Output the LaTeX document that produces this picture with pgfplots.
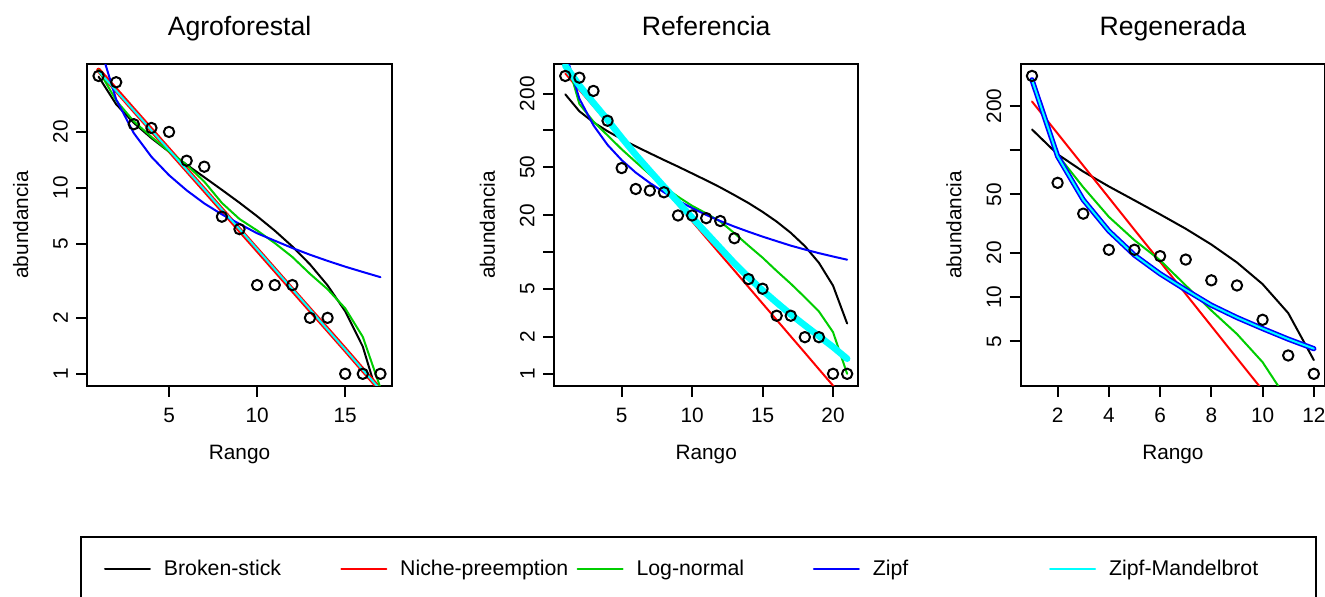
\documentclass[border=0pt]{standalone}
\usepackage{fontspec}
\setmainfont{Liberation Sans}
\usepackage{pgfplots}
\pgfplotsset{compat=1.18}
\definecolor{rgreen}{HTML}{00CD00}
\definecolor{rcyan}{RGB}{0,255,255}
\definecolor{rred}{RGB}{255,0,0}
\definecolor{rblue}{RGB}{0,0,255}

\pgfplotsset{
  every axis/.append style={
    scale only axis, width=152.2pt, height=160.85pt,
    clip=true,
    axis line style={line width=1pt},
    tick align=outside, major tick length=5.5pt,
    tick style={black, line width=1pt},
    xtick pos=left, ytick pos=left,
    xminorticks=false, yminorticks=false,
    ticklabel style={font=\fontsize{10.4}{12}\selectfont, inner sep=0pt},
    xticklabel style={anchor=north, yshift=-5.65pt},
    yticklabel style={xshift=-4pt, rotate=90, anchor=south},
    xlabel={Rango}, ylabel={abundancia},
    label style={font=\fontsize{10.4}{12}\selectfont},
    xlabel style={at={(axis description cs:0.5,-0.2294)}, anchor=base},
    ylabel style={at={(axis description cs:-0.219,0.5)}, anchor=center},
    every axis title shift=0pt,
    title style={font=\fontsize{13.3}{16}\selectfont, at={(axis description cs:0.5,1.09)}, anchor=base},
  },
  every axis plot/.append style={line width=1pt, line join=round, line cap=round},
  legend image code/.code={\draw[#1] (0.5pt,0pt) -- (23pt,0pt); \path (27.45pt,0pt);},
}

\begin{document}
\begin{tikzpicture}
\path[use as bounding box] (0,0) rectangle (662.5pt,-298pt);

% Agroforestal
\begin{axis}[ymode=log, at={(43.65pt,-192.85pt)}, anchor=south west,
  title={Agroforestal},
  xmin=0.36, xmax=17.64, ymin=0.8629, ymax=46.37,
  xtick={5,10,15}, xticklabels={5,10,15},
  ytick={1,2,5,10,20}, yticklabels={1,2,5,10,20},
  legend columns=5, legend cell align=left,
  legend style={at={(axis description cs:-0.024,-0.4672)}, anchor=north west,
    draw=black, line width=1pt, fill=white, inner xsep=11.5pt, inner ysep=9.5pt,
    column sep=0pt, font=\fontsize{10.65}{12}\selectfont},
]
\addlegendimage{black, line width=1pt}
\addlegendentry{\makebox[86.2pt][l]{Broken-stick}}
\addlegendimage{rred, line width=1pt}
\addlegendentry{\makebox[86.2pt][l]{Niche-preemption}}
\addlegendimage{rgreen, line width=1pt}
\addlegendentry{\makebox[86.2pt][l]{Log-normal}}
\addlegendimage{rblue, line width=1pt}
\addlegendentry{\makebox[86.2pt][l]{Zipf}}
\addlegendimage{rcyan, line width=1pt}
\addlegendentry{\makebox[89.85pt][l]{Zipf-Mandelbrot}}

\addplot[only marks, mark=o, black, mark size=2.6pt, mark options={line width=1pt}] coordinates {
  (1,40) (2,37) (3,22) (4,21) (5,20) (6,14) (7,13) (8,7) (9,6) (10,3)
  (11,3) (12,3) (13,2) (14,2) (15,1) (16,1) (17,1)
};
\addplot[black] coordinates {
  (1,39.65) (2,28.13) (3,22.36) (4,18.52) (5,15.64) (6,13.33) (7,11.41) (8,9.76)
  (9,8.32) (10,7.04) (11,5.89) (12,4.84) (13,3.88) (14,2.99) (15,2.17) (16,1.40) (17,0.68)
};
\addplot[rred, line width=2.4pt] coordinates {
  (1,43) (2,33.6) (3,26.2) (4,20.5) (5,16.0) (6,12.5) (7,9.76) (8,7.62)
  (9,5.95) (10,4.65) (11,3.63) (12,2.83) (13,2.21) (14,1.73) (15,1.35) (16,1.05) (17,0.82)
};
\addplot[rgreen] coordinates {
  (1,43) (2,29.5) (3,22.8) (4,18.8) (5,15.7) (6,13.3) (7,10.8) (8,8.3)
  (9,6.8) (10,5.9) (11,5.05) (12,4.25) (13,3.45) (14,2.85) (15,2.25) (16,1.58) (17,0.84)
};
\addplot[rblue] coordinates {
  (1,61) (2,29.9) (3,19.7) (4,14.7) (5,11.7) (6,9.7) (7,8.25) (8,7.2)
  (9,6.4) (10,5.7) (11,5.2) (12,4.75) (13,4.37) (14,4.05) (15,3.77) (16,3.53) (17,3.31)
};
\addplot[rcyan] coordinates {
  (1,42.5) (2,33.3) (3,26.1) (4,20.4) (5,16.0) (6,12.5) (7,9.8) (8,7.65)
  (9,6.0) (10,4.68) (11,3.65) (12,2.85) (13,2.22) (14,1.73) (15,1.35) (16,1.05) (17,0.82)
};
\end{axis}

% Referencia
\begin{axis}[ymode=log, at={(277pt,-192.85pt)}, anchor=south west,
  title={Referencia},
  xmin=0.2, xmax=21.8, ymin=0.7984, ymax=350.9,
  xtick={5,10,15,20}, xticklabels={5,10,15,20},
  ytick={1,2,5,10,20,50,100,200}, yticklabels={1,2,5,{},20,50,{},200},
]
\addplot[only marks, mark=o, black, mark size=2.6pt, mark options={line width=1pt}] coordinates {
  (1,280) (2,271) (3,211) (4,120) (5,49) (6,33) (7,32) (8,31) (9,20) (10,20) (11,19)
  (12,18) (13,13) (14,6) (15,5) (16,3) (17,3) (18,2) (19,2) (20,1) (21,1)
};
\addplot[black] coordinates {
  (1,197.9) (2,143.6) (3,116.5) (4,98.4) (5,84.8) (6,73.9) (7,64.9) (8,57.1) (9,50.4)
  (10,44.3) (11,38.9) (12,34.0) (13,29.4) (14,25.3) (15,21.4) (16,17.8) (17,14.4)
  (18,11.2) (19,8.16) (20,5.30) (21,2.59)
};
\addplot[rred] coordinates {
  (1,294) (2,215) (3,158) (4,116) (5,84.7) (6,62.1) (7,45.5) (8,33.3) (9,24.4)
  (10,17.9) (11,13.1) (12,9.6) (13,7.05) (14,5.16) (15,3.78) (16,2.77) (17,2.03)
  (18,1.49) (19,1.09) (20,0.80) (21,0.59)
};
\addplot[rgreen] coordinates {
  (1,420) (2,165) (3,118) (4,91) (5,70) (6,55) (7,43.5) (8,34.5) (9,28.5)
  (10,24) (11,20.8) (12,17.8) (13,14.3) (14,11.3) (15,9.0) (16,7.0) (17,5.5)
  (18,4.25) (19,3.25) (20,2.2) (21,1.0)
};
\addplot[rblue] coordinates {
  (1,441) (2,182) (3,110) (4,76) (5,57) (6,45) (7,37) (8,31) (9,26.5)
  (10,23) (11,20.2) (12,18) (13,16.2) (14,14.7) (15,13.4) (16,12.3) (17,11.3)
  (18,10.5) (19,9.8) (20,9.2) (21,8.66)
};
\addplot[rcyan, line width=3.3pt] coordinates {
  (1,340) (2,234) (3,168) (4,122) (5,87) (6,63) (7,46.5) (8,34.5) (9,25.8)
  (10,19.2) (11,14.4) (12,10.8) (13,8.1) (14,6.2) (15,4.85) (16,3.85) (17,3.08)
  (18,2.5) (19,2.04) (20,1.66) (21,1.33)
};
\end{axis}

% Regenerada
\begin{axis}[ymode=log, at={(510.35pt,-192.85pt)}, anchor=south west,
  title={Regenerada},
  xmin=0.56, xmax=12.44, ymin=2.489, ymax=387.0,
  xtick={2,4,6,8,10,12}, xticklabels={2,4,6,8,10,12},
  ytick={5,10,20,50,100,200}, yticklabels={5,10,20,50,{},200},
]
\addplot[only marks, mark=o, black, mark size=2.6pt, mark options={line width=1pt}] coordinates {
  (1,321) (2,60) (3,37) (4,21) (5,21) (6,19) (7,18) (8,13) (9,12) (10,7) (11,4) (12,3)
};
\addplot[black] coordinates {
  (1,138.6) (2,93.9) (3,71.6) (4,56.7) (5,45.6) (6,36.6) (7,29.2) (8,22.8)
  (9,17.2) (10,12.25) (11,7.78) (12,3.72)
};
\addplot[rred] coordinates {
  (1,215) (2,130) (3,78.6) (4,47.5) (5,28.7) (6,17.4) (7,10.5) (8,6.34)
  (9,3.83) (10,2.32) (11,1.40) (12,0.85)
};
\addplot[rgreen] coordinates {
  (1,300) (2,93) (3,56) (4,35.2) (5,24.4) (6,17.8) (7,12) (8,8.1)
  (9,5.6) (10,3.6) (11,1.95) (12,0.8)
};
\addplot[rblue, line width=2.6pt] coordinates {
  (1,302) (2,91) (3,46) (4,28.2) (5,19.3) (6,14.4) (7,11.2) (8,8.8)
  (9,7.25) (10,6.1) (11,5.17) (12,4.45)
};
\addplot[rcyan] coordinates {
  (1,302) (2,91) (3,46) (4,28.2) (5,19.3) (6,14.4) (7,11.2) (8,8.8)
  (9,7.25) (10,6.1) (11,5.17) (12,4.45)
};
\end{axis}
\end{tikzpicture}
\end{document}
